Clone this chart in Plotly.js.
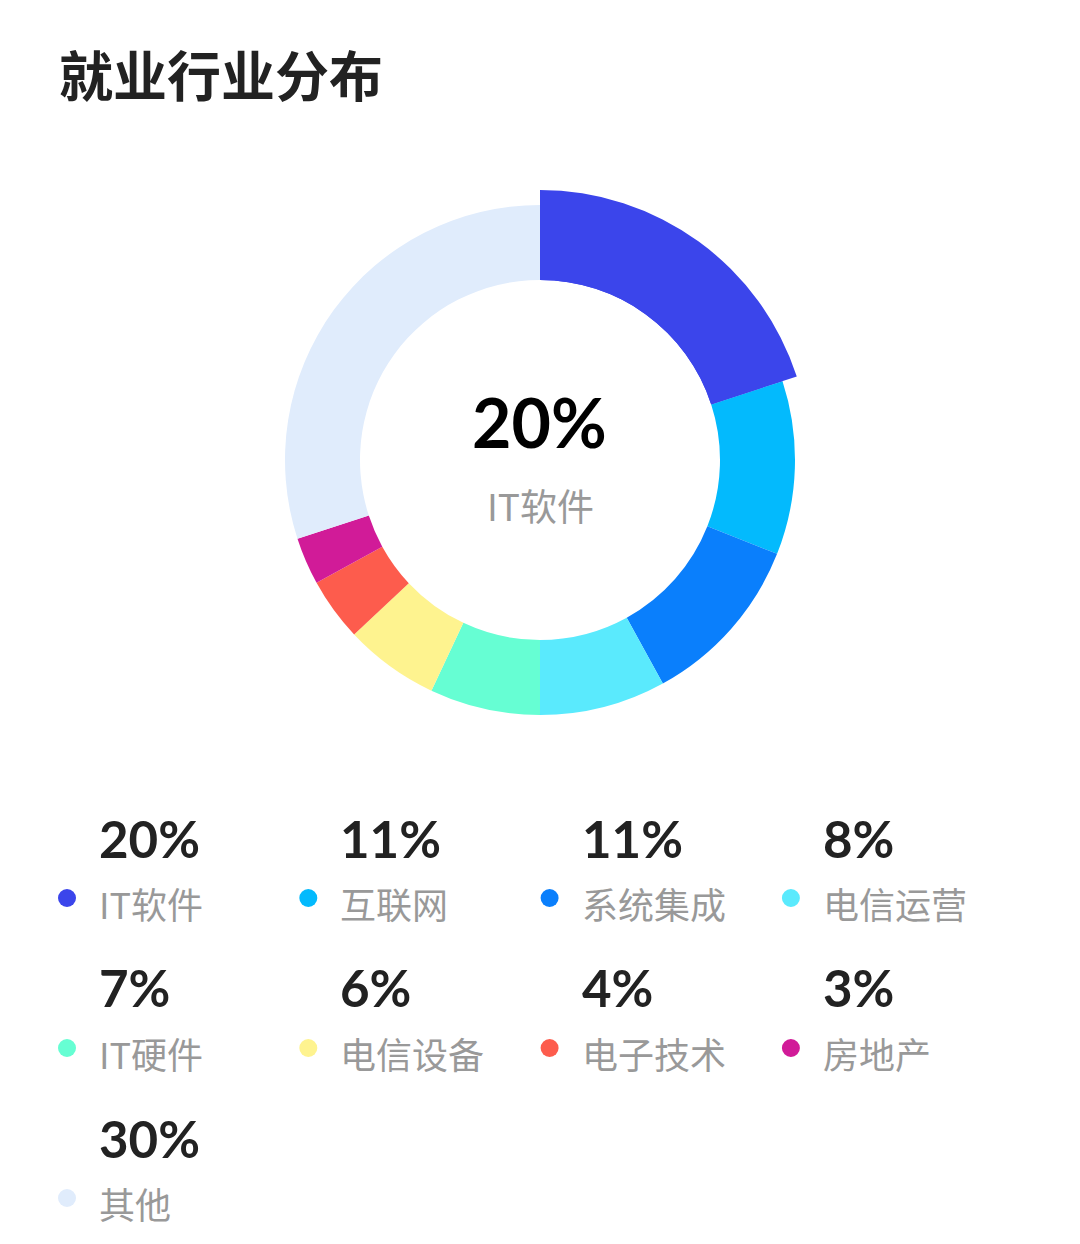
<!DOCTYPE html>
<html>
<head>
<meta charset="utf-8">
<script src="https://cdn.plot.ly/plotly-3.0.1.min.js"></script>
<style>html,body{margin:0;padding:0;background:#fff;}#chart{width:1080px;height:1244px;}</style>
</head>
<body>
<div id="chart"></div>
<script>
const chartTitle = '就业行业分布';
const categories = ['IT软件', '互联网', '系统集成', '电信运营', 'IT硬件', '电信设备', '电子技术', '房地产', '其他'];
const values = [20, 11, 11, 8, 7, 6, 4, 3, 30];
const colors = ['#3B45EB', '#03BAFD', '#0A7FFC', '#5AEAFD', '#66FED3', '#FEF38F', '#FD5C4D', '#D11B98', '#E0ECFC'];
const highlightIndex = 0;

const W = 1080, H = 1244;
const px = x => x / W;
const py = y => 1 - y / H;

const cx = 540, cy = 460;
const rOuter = 255, rHigh = 270, rInner = 180;
const CJK = '"Noto Sans CJK SC", "Noto Sans", sans-serif';
const NUM = 'Lato, "Noto Sans CJK SC", sans-serif';

function domainFor(r) {
  return { x: [px(cx - r), px(cx + r)], y: [py(cy + r), py(cy - r)] };
}

const base = {
  type: 'pie',
  labels: categories,
  values: values,
  sort: false,
  direction: 'clockwise',
  rotation: 0,
  textinfo: 'none',
  showlegend: false,
  hoverinfo: 'label+percent'
};

const traceMain = Object.assign({}, base, {
  hole: rInner / rOuter,
  domain: domainFor(rOuter),
  marker: { colors: colors, line: { width: 0 } }
});

const traceHigh = Object.assign({}, base, {
  hole: rInner / rHigh,
  domain: domainFor(rHigh),
  marker: {
    colors: colors.map((c, i) => i === highlightIndex ? c : 'rgba(0,0,0,0)'),
    line: { width: 0 }
  }
});

const annotations = [];
const shapes = [];

// center label
annotations.push({
  xref: 'paper', yref: 'paper', x: px(cx - 1), y: py(421), xanchor: 'center', yanchor: 'middle',
  text: values[highlightIndex] + '%', showarrow: false,
  font: { family: NUM, size: 68, color: '#000000', weight: 700 }
});
annotations.push({
  xref: 'paper', yref: 'paper', x: px(cx), y: py(505), xanchor: 'center', yanchor: 'middle',
  text: categories[highlightIndex], showarrow: false,
  font: { family: CJK, size: 37, color: '#999999' }
});

// legend grid
const colStep = 241.3, rowStep = 150;
categories.forEach((cat, i) => {
  const col = i % 4, row = Math.floor(i / 4);
  const tx = 100 + col * colStep;
  const dotX = 67 + col * colStep;
  const pctY = 838 + row * rowStep;
  const labY = 903 + row * rowStep;
  const dotY = 898 + row * rowStep;
  annotations.push({
    xref: 'paper', yref: 'paper', x: px(tx - 3), y: py(pctY), xanchor: 'left', yanchor: 'middle',
    text: values[i] + '%', showarrow: false,
    font: { family: NUM, size: 51, color: '#222222', weight: 700 }
  });
  annotations.push({
    xref: 'paper', yref: 'paper', x: px(tx - 3), y: py(labY), xanchor: 'left', yanchor: 'middle',
    text: cat, showarrow: false,
    font: { family: CJK, size: 36, color: '#999999' }
  });
  shapes.push({
    type: 'circle', xref: 'paper', yref: 'paper',
    x0: px(dotX - 9), x1: px(dotX + 9), y0: py(dotY + 9), y1: py(dotY - 9),
    fillcolor: colors[i], line: { width: 0 }
  });
});

const layout = {
  width: W, height: H,
  margin: { l: 0, r: 0, t: 0, b: 0 },
  paper_bgcolor: '#ffffff',
  plot_bgcolor: '#ffffff',
  title: {
    text: chartTitle,
    x: px(59), xanchor: 'left', xref: 'paper',
    y: py(78), yanchor: 'middle', yref: 'paper',
    font: { family: CJK, size: 54, color: '#222222', weight: 700 }
  },
  annotations: annotations,
  shapes: shapes,
  showlegend: false
};

Plotly.newPlot('chart', [traceMain, traceHigh], layout, { displayModeBar: false, staticPlot: true });
</script>
</body>
</html>
